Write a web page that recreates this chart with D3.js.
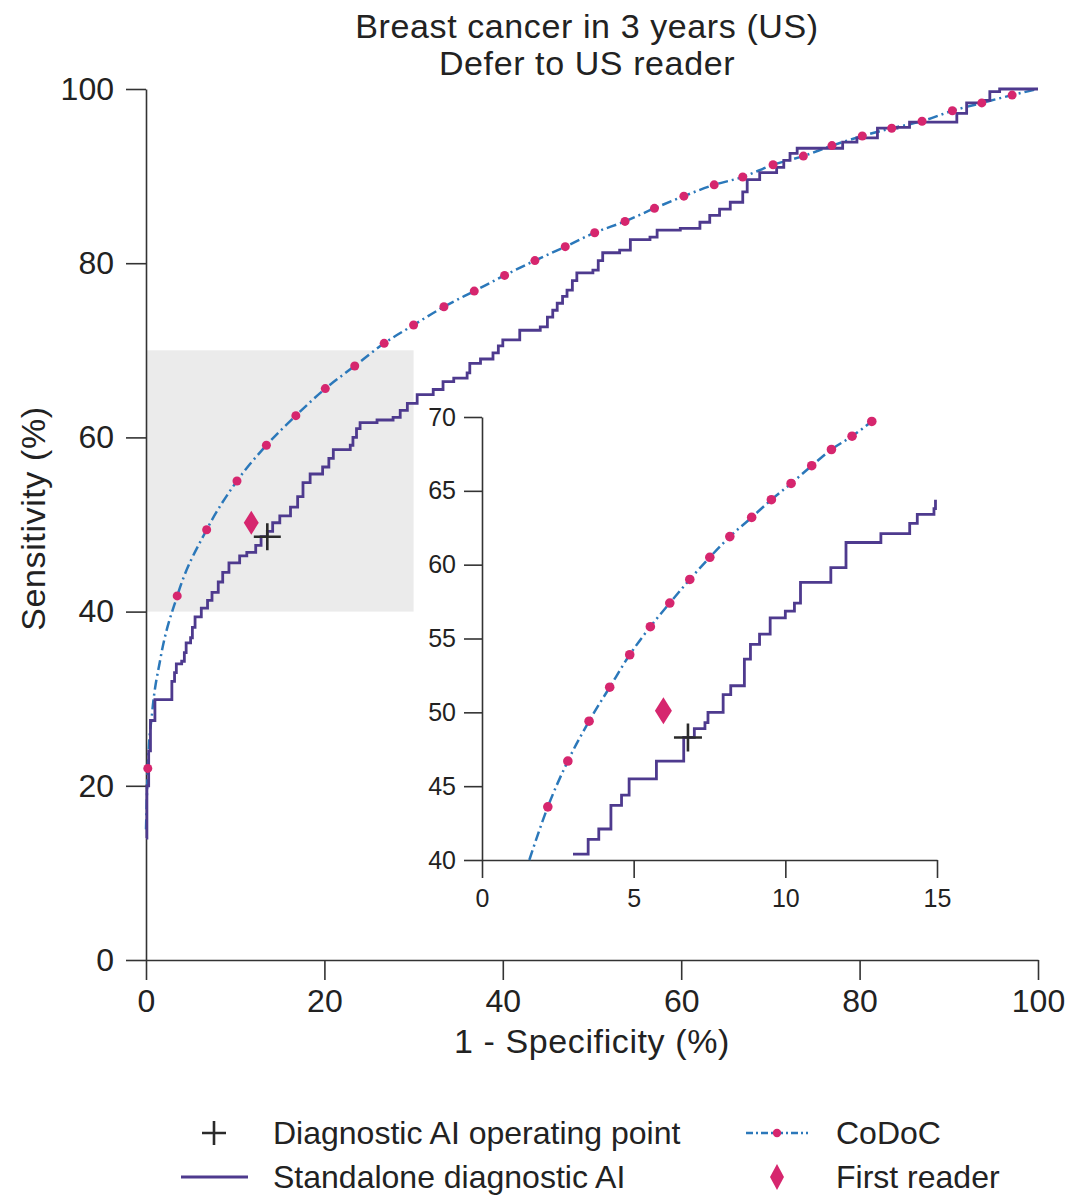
<!DOCTYPE html>
<html>
<head>
<meta charset="utf-8">
<script src="https://cdn.jsdelivr.net/npm/d3@7"></script>
<style>
  html, body { margin: 0; padding: 0; background: #fff; }
  svg { display: block; font-family: "Liberation Sans", Arial, sans-serif; }
  .axis path, .axis line { stroke: #333; stroke-width: 1.6; }
  .axis text { fill: #222; }
</style>
</head>
<body>
<svg id="chart" width="1070" height="1197"></svg>
<script>
  // ---------------- Data ----------------
  const titleLines = ["Breast cancer in 3 years (US)", "Defer to US reader"];
  const xLabel = "1 - Specificity (%)";
  const yLabel = "Sensitivity (%)";

  const mainTicks = [0, 20, 40, 60, 80, 100];
  const insetXTicks = [0, 5, 10, 15];
  const insetYTicks = [40, 45, 50, 55, 60, 65, 70];
  const zoomBox = { x0: 0, x1: 30, y0: 40, y1: 70 };

  // standalone AI ROC, main panel (x = where the step happens, y = new level)
  const aiMain = [
    [0, 14], [0.1, 20], [0.3, 24], [0.5, 27.5], [1.0, 29.9], [2.9, 32], [3.2, 33],
    [3.4, 34], [4.0, 34.3], [4.3, 35.3], [4.5, 36.4], [5.0, 37.0], [5.2, 38.2],
    [5.5, 39.4], [6.2, 40.4], [6.9, 41.3], [7.4, 42.2], [8.1, 43.4],
    [8.6, 44.5], [9.3, 45.6], [10.5, 46.4], [11.3, 46.8], [12.3, 47.6], [12.9, 48.6],
    [13.6, 49.2], [14.2, 50.2], [15.0, 51.0], [16.2, 52.0], [17.0, 53.2], [17.6, 54.8],
    [18.4, 55.8], [19.8, 56.6], [20.5, 57.6], [21.0, 58.6], [22.9, 59.1], [23.2, 60.0],
    [23.6, 61.0], [24.0, 61.7], [25.9, 62.0], [27.7, 62.3], [28.5, 63.1], [29.3, 63.9],
    [30.4, 64.9], [32.2, 65.5], [33.3, 66.4], [34.5, 66.8], [36.0, 67.4], [36.3, 68.5],
    [37.5, 69.0], [38.9, 69.7], [39.5, 70.5], [40.0, 71.2], [41.9, 72.3], [44.2, 72.7],
    [45.0, 73.8], [45.6, 74.6], [46.1, 75.4], [46.7, 76.2], [47.2, 76.9], [47.8, 78.0],
    [48.3, 78.9], [50.1, 79.2], [50.7, 80.3], [51.2, 81.2], [53.1, 81.5], [54.3, 82.7],
    [56.5, 83.0], [57.3, 83.8], [59.9, 84.0], [62.1, 84.7], [63.2, 85.5], [64.3, 86.2],
    [65.5, 87.0], [66.9, 88.2], [67.4, 89.6], [68.8, 90.4], [70.7, 91.0], [71.5, 91.8],
    [72.2, 92.6], [73.0, 93.2], [78.1, 93.9], [79.7, 94.4], [82.0, 95.5], [84.2, 95.6],
    [85.6, 96.2], [90.9, 97.2], [92.0, 98.4], [93.8, 98.7], [94.6, 99.7], [95.7, 100],
    [100, 100]
  ];

  // CoDoC markers and curve, main panel
  const codocMainDots = [
    [0.2, 22], [3.5, 41.8], [6.8, 49.4], [10.2, 55.0], [13.5, 59.1], [16.8, 62.5],
    [20.1, 65.6], [23.4, 68.2], [26.7, 70.8], [30.0, 72.9], [33.4, 75.0], [36.8, 76.8],
    [40.2, 78.6], [43.6, 80.3], [47.0, 81.9], [50.3, 83.5], [53.7, 84.8], [57.0, 86.3],
    [60.3, 87.7], [63.7, 89.0], [66.9, 89.9], [70.3, 91.3], [73.7, 92.3], [76.9, 93.5],
    [80.3, 94.6], [83.6, 95.5], [87.0, 96.3], [90.4, 97.5], [93.7, 98.4], [97.1, 99.3]
  ];
  const codocMainLine = [[0, 15], [0.2, 22], [0.7, 28.5], [1.6, 34.5], ...codocMainDots.slice(1), [100, 100]];

  const firstReaderMain = [11.8, 50.2];
  const operatingMain = [13.6, 48.6];

  // inset (zoomed) panel
  const aiInset = [
    [3.0, 40.4], [3.5, 41.4], [3.85, 42.1], [4.25, 43.7], [4.6, 44.4], [4.85, 45.5],
    [5.75, 46.7], [6.65, 48.3], [7.0, 48.9], [7.35, 49.3], [7.45, 50.0], [7.95, 51.2],
    [8.2, 51.8], [8.65, 53.6], [8.85, 54.6], [9.15, 55.3], [9.5, 56.4], [10.0, 56.85],
    [10.3, 57.4], [10.5, 58.8], [11.5, 59.8], [12.0, 61.5], [13.15, 62.1], [14.1, 62.8],
    [14.35, 63.4], [14.9, 63.8], [14.95, 64.4]
  ];
  const codocInsetDots = [
    [2.17, 43.6], [2.83, 46.7], [3.53, 49.4], [4.21, 51.7], [4.87, 53.9], [5.55, 55.8],
    [6.19, 57.4], [6.85, 59.0], [7.51, 60.5], [8.17, 61.9], [8.89, 63.2], [9.54, 64.4],
    [10.19, 65.5], [10.87, 66.7], [11.52, 67.8], [12.20, 68.7], [12.85, 69.7]
  ];
  const codocInsetLine = [[1.56, 40], ...codocInsetDots];
  const firstReaderInset = [5.98, 50.1];
  const operatingInset = [6.79, 48.3];

  const legendItems = [
    { key: "op", label: "Diagnostic AI operating point" },
    { key: "codoc", label: "CoDoC" },
    { key: "ai", label: "Standalone diagnostic AI" },
    { key: "reader", label: "First reader" }
  ];

  // ---------------- Styles ----------------
  const purple = "#4e3a8e";
  const pink = "#d6266e";
  const blue = "#2b78ba";
  const dark = "#2a2a2a";

  const svg = d3.select("#chart");

  // ---------------- Scales ----------------
  const x = d3.scaleLinear().domain([0, 100]).range([146, 1038]);
  const y = d3.scaleLinear().domain([0, 100]).range([960, 89]);
  const ix = d3.scaleLinear().domain([0, 15]).range([482, 937]);
  const iy = d3.scaleLinear().domain([40, 70]).range([860, 417]);

  // grey zoom region
  svg.append("rect")
    .attr("x", x(zoomBox.x0)).attr("y", y(zoomBox.y1))
    .attr("width", x(zoomBox.x1) - x(zoomBox.x0))
    .attr("height", y(zoomBox.y0) - y(zoomBox.y1))
    .attr("fill", "#ebebeb");

  // ---------------- Axes ----------------
  const gx = svg.append("g").attr("class", "axis")
    .attr("transform", `translate(0,${y(0)})`)
    .call(d3.axisBottom(x).tickValues(mainTicks).tickSize(20).tickSizeOuter(0).tickPadding(9));
  gx.selectAll("text").attr("font-size", 32);

  const gy = svg.append("g").attr("class", "axis")
    .attr("transform", `translate(${x(0)},0)`)
    .call(d3.axisLeft(y).tickValues(mainTicks).tickSize(20).tickSizeOuter(0).tickPadding(12));
  gy.selectAll("text").attr("font-size", 32);

  const gix = svg.append("g").attr("class", "axis")
    .attr("transform", `translate(0,${iy(40)})`)
    .call(d3.axisBottom(ix).tickValues(insetXTicks).tickSize(18).tickSizeOuter(0).tickPadding(11));
  gix.selectAll("text").attr("font-size", 25);

  const giy = svg.append("g").attr("class", "axis")
    .attr("transform", `translate(${ix(0)},0)`)
    .call(d3.axisLeft(iy).tickValues(insetYTicks).tickSize(18).tickSizeOuter(0).tickPadding(8));
  giy.selectAll("text").attr("font-size", 25);

  // ---------------- Titles ----------------
  const titleStyle = sel => sel.attr("font-size", 34).attr("letter-spacing", 0.6).attr("fill", "#222");

  svg.selectAll(".title").data(titleLines).enter().append("text")
    .attr("class", "title")
    .attr("x", 587).attr("y", (d, i) => 38 + i * 37)
    .attr("text-anchor", "middle")
    .call(titleStyle)
    .text(d => d);

  svg.append("text")
    .attr("x", (x(0) + x(100)) / 2).attr("y", 1053)
    .attr("text-anchor", "middle")
    .call(titleStyle)
    .text(xLabel);

  svg.append("text")
    .attr("transform", `translate(33,${(y(0) + y(100)) / 2 - 6}) rotate(-90)`)
    .attr("text-anchor", "middle").attr("dominant-baseline", "central")
    .call(titleStyle)
    .text(yLabel);

  // ---------------- Marks ----------------
  const diamond = (w, h) => `M0,${-h / 2}L${w / 2},0L0,${h / 2}L${-w / 2},0Z`;
  const cross = s => `M${-s / 2},0H${s / 2}M0,${-s / 2}V${s / 2}`;

  function drawPanel(sx, sy, ai, codocLine, codocDots, reader, op, sz) {
    const g = svg.append("g");
    const step = d3.line().x(d => sx(d[0])).y(d => sy(d[1])).curve(d3.curveStepAfter);
    const smooth = d3.line().x(d => sx(d[0])).y(d => sy(d[1])).curve(d3.curveMonotoneX);

    g.append("path").datum(codocLine)
      .attr("d", smooth).attr("fill", "none")
      .attr("stroke", blue).attr("stroke-width", 2.5)
      .attr("stroke-dasharray", "10,4,2,4");

    g.append("path").datum(ai)
      .attr("d", step).attr("fill", "none")
      .attr("stroke", purple).attr("stroke-width", 2.8)
      .attr("stroke-linejoin", "miter");

    g.selectAll(".dot").data(codocDots).enter().append("circle")
      .attr("cx", d => sx(d[0])).attr("cy", d => sy(d[1]))
      .attr("r", sz.r).attr("fill", pink);

    g.append("path")
      .attr("transform", `translate(${sx(reader[0])},${sy(reader[1])})`)
      .attr("d", diamond(sz.dw, sz.dh)).attr("fill", pink);

    g.append("path")
      .attr("transform", `translate(${sx(op[0])},${sy(op[1])})`)
      .attr("d", cross(sz.c)).attr("stroke", dark).attr("stroke-width", 2.6).attr("fill", "none");
  }

  drawPanel(x, y, aiMain, codocMainLine, codocMainDots, firstReaderMain, operatingMain,
    { r: 4.5, dw: 15, dh: 24, c: 27 });
  drawPanel(ix, iy, aiInset, codocInsetLine, codocInsetDots, firstReaderInset, operatingInset,
    { r: 4.8, dw: 17, dh: 27, c: 28 });

  // ---------------- Legend ----------------
  const leg = svg.append("g");
  const legPos = { op: [214, 1133], ai: [214, 1177], codoc: [777, 1133], reader: [777, 1177] };

  legendItems.forEach(item => {
    const [cx, cy] = legPos[item.key];
    const gi = leg.append("g").attr("transform", `translate(${cx},${cy})`);
    if (item.key === "op") {
      gi.append("path").attr("d", cross(24)).attr("stroke", dark).attr("stroke-width", 2.6);
    } else if (item.key === "ai") {
      gi.append("line").attr("x1", -33).attr("x2", 34)
        .attr("stroke", purple).attr("stroke-width", 3);
    } else if (item.key === "codoc") {
      gi.append("line").attr("x1", -31).attr("x2", 31)
        .attr("stroke", blue).attr("stroke-width", 2.4).attr("stroke-dasharray", "7,3,2,3");
      gi.append("circle").attr("r", 4.2).attr("fill", pink);
    } else {
      gi.append("path").attr("d", diamond(14, 26)).attr("fill", pink);
    }
    gi.append("text")
      .attr("x", 59).attr("y", 11)
      .attr("font-size", 32).attr("fill", "#222")
      .text(item.label);
  });
</script>
</body>
</html>
